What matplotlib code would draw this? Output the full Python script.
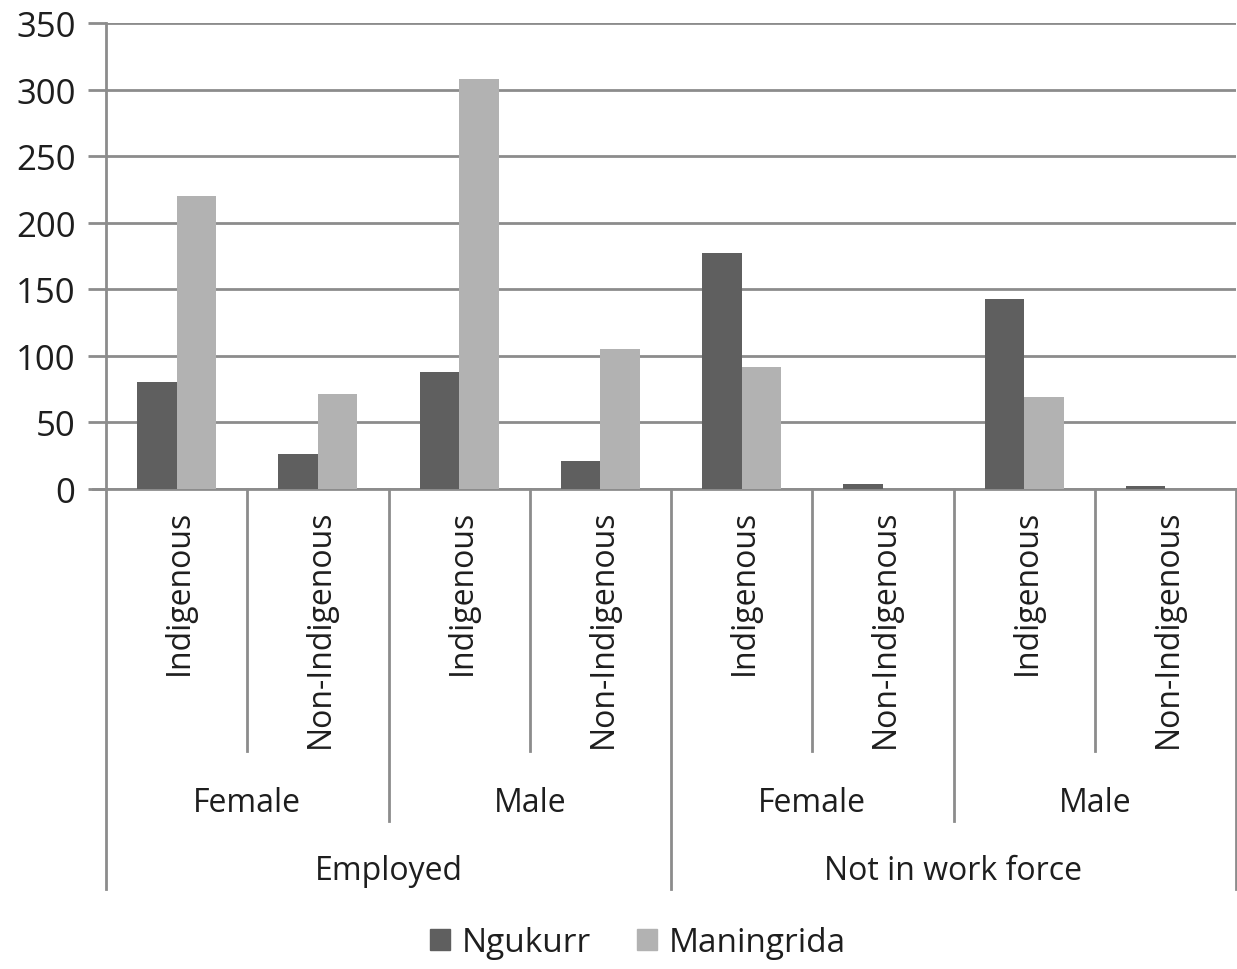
import matplotlib
matplotlib.use("Agg")
import matplotlib.pyplot as plt
from matplotlib.patches import Patch

plt.rcParams['font.family'] = ['Open Sans', 'DejaVu Sans']

# data
status = ["Employed", "Not in work force"]
sexes = ["Female", "Male"]
groups = ["Indigenous", "Non-Indigenous"]
ngukurr = [80, 26, 88, 21, 177, 4, 143, 2]
maningrida = [220, 71, 308, 105, 92, 0, 69, 0]

dark = "#5f5f5f"
light = "#b2b2b2"
line_c = "#8c8c8c"
text_c = "#1e1e1e"

W, H = 1237, 970
fig = plt.figure(figsize=(W / 100, H / 100), dpi=100)
ax_l, ax_r, ax_t, ax_b = 106, 1236, 24, 490
ax = fig.add_axes([ax_l / W, 1 - ax_b / H, (ax_r - ax_l) / W, (ax_b - ax_t) / H])

n = len(ngukurr)
x = list(range(n))
bw = 0.28
ax.bar([i - bw / 2 for i in x], ngukurr, width=bw, color=dark, zorder=3)
ax.bar([i + bw / 2 for i in x], maningrida, width=bw, color=light, zorder=3)

ax.set_xlim(-0.5, n - 0.5)
ax.set_ylim(0, 350)
ax.set_yticks(range(0, 351, 50))
ax.yaxis.grid(True, color=line_c, lw=2, zorder=0)
ax.tick_params(axis='y', length=13, width=2, color=line_c, labelsize=25,
               labelcolor=text_c, pad=9)
ax.set_xticks([])
for s in ['top', 'right']:
    ax.spines[s].set_visible(False)
ax.spines['left'].set_color(line_c)
ax.spines['left'].set_linewidth(2)
ax.spines['bottom'].set_color(line_c)
ax.spines['bottom'].set_linewidth(2)

trans = ax.get_xaxis_transform()
ph = ax_b - ax_t


def yf(pix):
    # pixel row below the axes -> axes fraction
    return -(pix - ax_b) / ph


# separators
for b in range(n + 1):
    xb = b - 0.5
    if b in (0, 4, 8):
        end = 890
    elif b in (2, 6):
        end = 822
    else:
        end = 752
    ax.plot([xb, xb], [0, yf(end)], transform=trans, color=line_c, lw=2,
            clip_on=False, zorder=1)
ax.plot([-0.5 - 13 / 141, -0.5], [0, 0], transform=trans, color=line_c, lw=2,
        clip_on=False)

# level 1 labels
for i in x:
    ax.text(i + 0.02, yf(510), groups[i % 2], transform=trans, rotation=90,
            ha='center', va='top', fontsize=23, color=text_c)
# level 2 labels
for j in range(4):
    ax.text(2 * j + 0.5, yf(803), sexes[j % 2], transform=trans,
            ha='center', va='center', fontsize=23, color=text_c)
# level 3 labels
for k in range(2):
    ax.text(4 * k + 1.5, yf(872), status[k], transform=trans,
            ha='center', va='center', fontsize=23, color=text_c)

handles = [Patch(color=dark, label="Ngukurr"), Patch(color=light, label="Maningrida")]
fig.legend(handles=handles, loc='center', bbox_to_anchor=(638 / W, 1 - 944 / H),
           ncol=2, frameon=False, fontsize=24, handlelength=0.6, handleheight=0.6,
           handletextpad=0.35, columnspacing=1.4, labelcolor=text_c)

fig.savefig("out.png", dpi=100)
